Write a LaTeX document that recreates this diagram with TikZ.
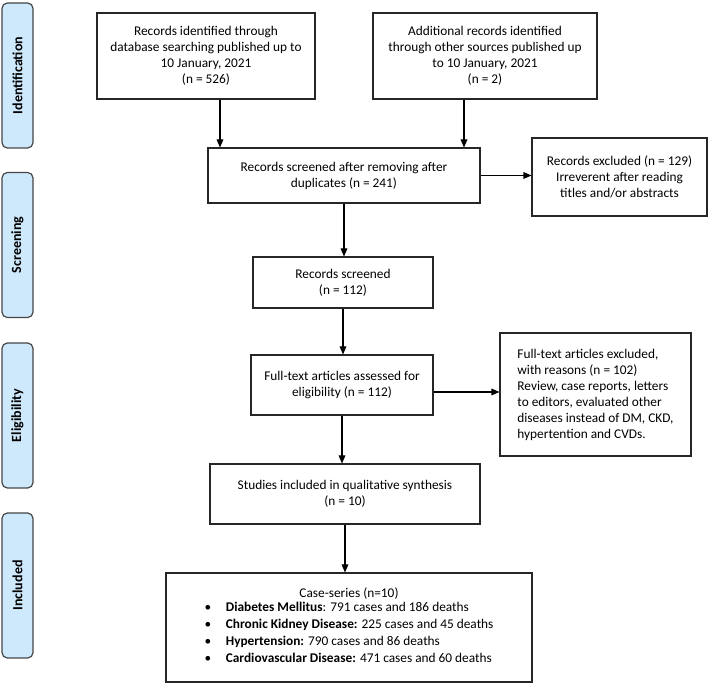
\documentclass[tikz,border=0pt]{standalone}
\usepackage{fontspec}
\setmainfont{Carlito}
\usetikzlibrary{arrows.meta}
\definecolor{barblue}{RGB}{206,233,252}
\definecolor{bargray}{RGB}{70,70,70}

\begin{document}
\begin{tikzpicture}[x=0.75pt, y=-0.75pt,
  stage/.style={draw=bargray, fill=barblue, line width=0.9pt, rounded corners=4pt, rotate=90,
    minimum width=145*0.75pt, minimum height=31*0.75pt, inner sep=0pt,
    font=\fontsize{10.5}{13}\selectfont\bfseries},
  box/.style={draw=black!85, line width=0.8pt, align=center, inner sep=0pt,
    font=\fontsize{10}{12}\selectfont},
  arr/.style={line width=0.8pt, -{Triangle[length=6pt,width=5pt]}}]
\useasboundingbox (0,0) rectangle (708,684);

\node[stage] (ident) at (17.5,75.5) {Identification};
\node[stage] (screen) at (17.5,245) {Screening};
\node[stage] (elig) at (17.5,415.5) {Eligibility};
\node[stage] (incl) at (17.5,585.5) {Included};

\node[box, minimum width=218*0.75pt, minimum height=86*0.75pt] (dbase) at (206,56)
  {Records identified through\\ database searching published up to\\ 10 January, 2021\\ (n = 526)};
\node[box, minimum width=224*0.75pt, minimum height=86*0.75pt] (other) at (485,56)
  {Additional records identified\\ through other sources published up\\ to 10 January, 2021\\ (n = 2)};
\node[box, minimum width=272*0.75pt, minimum height=55*0.75pt] (dupl) at (344,175.5)
  {Records screened after removing after\\ duplicates (n = 241)};
\node[box, minimum width=175*0.75pt, minimum height=78*0.75pt] (excl) at (619.5,177)
  {Records excluded (n = 129)\\ Irreverent after reading\\ titles and/or abstracts};
\node[box, minimum width=180*0.75pt, minimum height=51*0.75pt] (scrd) at (343,282.5)
  {Records screened\\ (n = 112)};
\node[box, minimum width=182*0.75pt, minimum height=60*0.75pt] (full) at (342,385)
  {Full-text articles assessed for\\ eligibility (n = 112)};
\node[box, align=left, minimum width=191*0.75pt, minimum height=123*0.75pt] (fexcl) at (595.5,394.5)
  {Full-text articles excluded,\\ with reasons (n = 102)\\ Review, case reports, letters\\ to editors, evaluated other\\ diseases instead of DM, CKD,\\ hypertention and CVDs.};
\node[box, minimum width=270*0.75pt, minimum height=60*0.75pt] (qual) at (345,494)
  {Studies included in qualitative synthesis\\ (n = 10)};
\node[box, minimum width=366*0.75pt, minimum height=109*0.75pt] (cases) at (349,627.5)
  {Case-series (n=10)\\[-1pt]
   \def\arraystretch{1.06}%
   \begin{tabular}{@{}l@{\hspace{11pt}}l@{}}
   \textbullet & \textbf{Diabetes Mellitus}: 791 cases and 186 deaths\\
   \textbullet & \textbf{Chronic Kidney Disease:} 225 cases and 45 deaths\\
   \textbullet & \textbf{Hypertension:} 790 cases and 86 deaths\\
   \textbullet & \textbf{Cardiovascular Disease:} 471 cases and 60 deaths
   \end{tabular}};

\draw[arr] ([xshift=14*0.75pt]dbase.south) -- ([xshift=14*0.75pt]dbase.south |- dupl.north);
\draw[arr] ([xshift=-21*0.75pt]other.south) -- ([xshift=-21*0.75pt]other.south |- dupl.north);
\draw[arr] (dupl.east) -- (dupl.east -| excl.west);
\draw[arr] (dupl.south) -- (dupl.south |- scrd.north);
\draw[arr] (scrd.south) -- (scrd.south |- full.north);
\draw[arr] ([yshift=-7*0.75pt]full.east) -- ([yshift=-7*0.75pt]full.east -| fexcl.west);
\draw[arr] (full.south) -- (full.south |- qual.north);
\draw[arr] (qual.south) -- (qual.south |- cases.north);

\end{tikzpicture}
\end{document}
